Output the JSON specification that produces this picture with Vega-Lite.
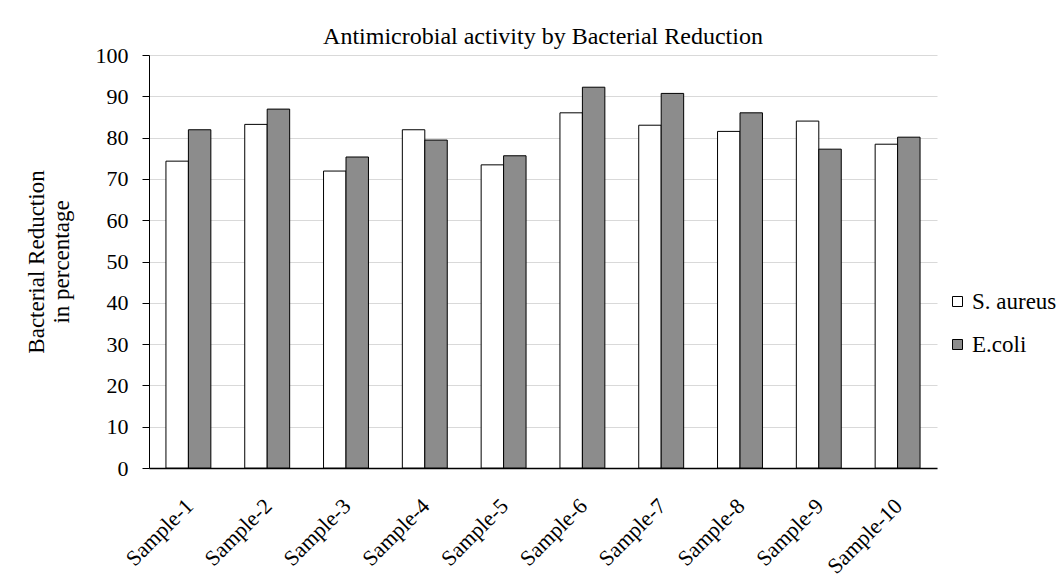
{
  "$schema": "https://vega.github.io/schema/vega-lite/v6.json",
  "autosize": {"type": "none"},
  "padding": {"left": 149, "top": 55, "right": 120, "bottom": 120},
  "width": 788,
  "height": 413,
  "background": "white",
  "title": {
    "text": "Antimicrobial activity by Bacterial Reduction",
    "font": "Liberation Serif",
    "fontSize": 24,
    "fontWeight": "normal",
    "color": "black",
    "anchor": "middle",
    "offset": -5
  },
  "data": {
    "values": [
      {"sample": "Sample-1", "organism": "S. aureus", "value": 74.3},
      {"sample": "Sample-1", "organism": "E.coli", "value": 81.9},
      {"sample": "Sample-2", "organism": "S. aureus", "value": 83.2},
      {"sample": "Sample-2", "organism": "E.coli", "value": 86.9},
      {"sample": "Sample-3", "organism": "S. aureus", "value": 71.9},
      {"sample": "Sample-3", "organism": "E.coli", "value": 75.3},
      {"sample": "Sample-4", "organism": "S. aureus", "value": 81.9},
      {"sample": "Sample-4", "organism": "E.coli", "value": 79.4},
      {"sample": "Sample-5", "organism": "S. aureus", "value": 73.4},
      {"sample": "Sample-5", "organism": "E.coli", "value": 75.6},
      {"sample": "Sample-6", "organism": "S. aureus", "value": 86.0},
      {"sample": "Sample-6", "organism": "E.coli", "value": 92.2},
      {"sample": "Sample-7", "organism": "S. aureus", "value": 83.0},
      {"sample": "Sample-7", "organism": "E.coli", "value": 90.7},
      {"sample": "Sample-8", "organism": "S. aureus", "value": 81.5},
      {"sample": "Sample-8", "organism": "E.coli", "value": 86.0},
      {"sample": "Sample-9", "organism": "S. aureus", "value": 84.0},
      {"sample": "Sample-9", "organism": "E.coli", "value": 77.2},
      {"sample": "Sample-10", "organism": "S. aureus", "value": 78.4},
      {"sample": "Sample-10", "organism": "E.coli", "value": 80.1}
    ]
  },
  "mark": {"type": "bar", "stroke": "black", "strokeWidth": 1},
  "encoding": {
    "x": {
      "field": "sample",
      "type": "nominal",
      "sort": null,
      "scale": {"paddingInner": 0.43, "paddingOuter": 0.215},
      "axis": {
        "title": null,
        "labelAngle": -45,
        "labelFont": "Liberation Serif",
        "labelFontSize": 22,
        "labelColor": "black",
        "labelPadding": 27,
        "labelOffset": -6,
        "ticks": false,
        "domainColor": "black",
        "domainWidth": 1.5
      }
    },
    "xOffset": {
      "field": "organism",
      "type": "nominal",
      "sort": ["S. aureus", "E.coli"],
      "scale": {"paddingInner": 0, "paddingOuter": 0}
    },
    "y": {
      "field": "value",
      "type": "quantitative",
      "scale": {"domain": [0, 100], "nice": false},
      "axis": {
        "values": [0, 10, 20, 30, 40, 50, 60, 70, 80, 90, 100],
        "title": ["Bacterial Reduction", "in percentage"],
        "titleFont": "Liberation Serif",
        "titleFontSize": 23,
        "titleFontWeight": "normal",
        "titleColor": "black",
        "titlePadding": 22,
        "labelFont": "Liberation Serif",
        "labelFontSize": 22,
        "labelColor": "black",
        "labelPadding": 14,
        "tickColor": "black",
        "tickSize": 7,
        "domainColor": "black",
        "gridColor": "#d9d9d9",
        "gridWidth": 1
      }
    },
    "color": {
      "field": "organism",
      "type": "nominal",
      "sort": ["S. aureus", "E.coli"],
      "scale": {"domain": ["S. aureus", "E.coli"], "range": ["#ffffff", "#8c8c8c"]},
      "legend": {
        "title": null,
        "orient": "none",
        "legendX": 797,
        "legendY": 235,
        "padding": 0,
        "symbolType": "square",
        "symbolSize": 100,
        "symbolStrokeColor": "black",
        "symbolStrokeWidth": 1,
        "labelFont": "Liberation Serif",
        "labelFontSize": 23,
        "labelColor": "black",
        "labelOffset": 3,
        "labelLimit": 200,
        "rowPadding": 19
      }
    }
  },
  "config": {"view": {"stroke": null}}
}
